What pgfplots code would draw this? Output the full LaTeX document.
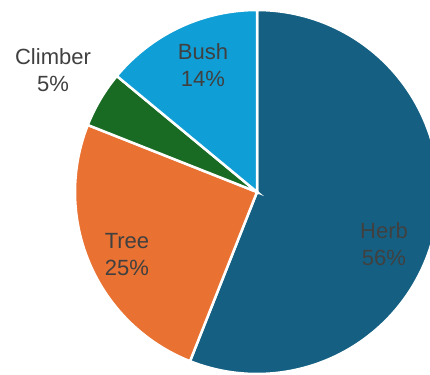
\documentclass[border=0pt]{standalone}
\usepackage{pgfplots}
\pgfplotsset{compat=1.18}
\usepackage{fontspec}
\setmainfont{Liberation Sans}
\definecolor{herb}{HTML}{156082}
\definecolor{tree}{HTML}{E97132}
\definecolor{climber}{HTML}{196B24}
\definecolor{bush}{HTML}{0F9ED5}
\definecolor{lbl}{HTML}{404040}
% data (percent)
\def\vHerb{56}
\def\vTree{25}
\def\vClimber{5}
\def\vBush{14}
\pgfmathsetmacro{\aA}{90}
\pgfmathsetmacro{\aB}{\aA-3.6*\vHerb}
\pgfmathsetmacro{\aC}{\aB-3.6*\vTree}
\pgfmathsetmacro{\aD}{\aC-3.6*\vClimber}
\pgfmathsetmacro{\aE}{\aD-3.6*\vBush}
\def\cx{257}
\def\cy{182}
\def\rr{182}
\begin{document}
\begin{tikzpicture}
\useasboundingbox (0,0) rectangle (430pt,374pt);
\begin{axis}[
  at={(0,0)}, anchor=south west,
  scale only axis, width=430pt, height=374pt,
  xmin=0, xmax=430, ymin=0, ymax=374,
  axis lines=none, clip=true,
]
\addplot[fill=herb, draw=white, line width=2.5pt, domain=\aB:\aA, samples=120, variable=\t]
  ({\cx+\rr*cos(t)},{\cy+\rr*sin(t)}) -- (axis cs:\cx,\cy) -- cycle;
\addplot[fill=tree, draw=white, line width=2.5pt, domain=\aC:\aB, samples=60, variable=\t]
  ({\cx+\rr*cos(t)},{\cy+\rr*sin(t)}) -- (axis cs:\cx,\cy) -- cycle;
\addplot[fill=climber, draw=white, line width=2.5pt, domain=\aD:\aC, samples=20, variable=\t]
  ({\cx+\rr*cos(t)},{\cy+\rr*sin(t)}) -- (axis cs:\cx,\cy) -- cycle;
\addplot[fill=bush, draw=white, line width=2.5pt, domain=\aE:\aD, samples=40, variable=\t]
  ({\cx+\rr*cos(t)},{\cy+\rr*sin(t)}) -- (axis cs:\cx,\cy) -- cycle;
\begin{scope}[every node/.style={align=center, text=lbl, font=\fontsize{22pt}{27pt}\selectfont}]
\node at (axis cs:53,304) {Climber\\5\%};
\node at (axis cs:203,309) {Bush\\14\%};
\node at (axis cs:384,130) {Herb\\56\%};
\node at (axis cs:127,119) {Tree\\25\%};
\end{scope}
\end{axis}
\end{tikzpicture}
\end{document}
